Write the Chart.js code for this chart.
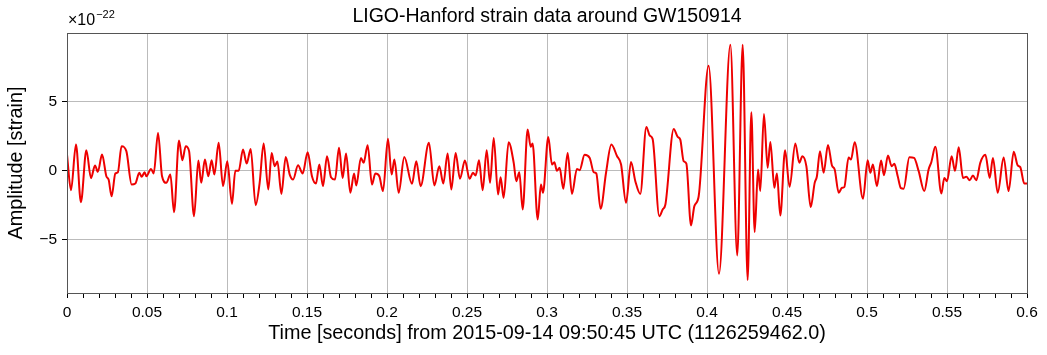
<!DOCTYPE html>
<html>
<head>
<meta charset="utf-8">
<script src="https://cdn.jsdelivr.net/npm/chart.js@4.4.1/dist/chart.umd.min.js"></script>
<style>
html,body{margin:0;padding:0;background:#fff;}
#wrap{width:1047px;height:355px;}
</style>
</head>
<body>
<div id="wrap"><canvas id="c" width="1047" height="355"></canvas></div>
<script>
// Time (s) from 2015-09-14 09:50:45 UTC, read at local extrema of the trace
const times = [
0.0000,0.0025,0.0056,0.0087,0.0121,0.0150,0.0175,0.0193,0.0219,0.0246,0.0260,0.0279,0.0302,0.0318,0.0341,0.0371,0.0404,0.0427,0.0452,0.0467,0.0485,0.0496,
0.0525,0.0542,0.0569,0.0594,0.0621,0.0646,0.0669,0.0700,0.0721,0.0742,0.0763,0.0794,0.0821,0.0839,0.0862,0.0883,0.0904,0.0921,0.0948,0.0975,0.1002,
0.1031,0.1052,0.1073,0.1100,0.1123,0.1148,0.1179,0.1204,0.1229,0.1258,0.1279,0.1298,0.1315,0.1340,0.1367,0.1392,0.1413,0.1444,0.1473,0.1504,
0.1531,0.1556,0.1577,0.1600,0.1625,0.1650,0.1675,0.1700,0.1723,0.1744,0.1771,0.1794,0.1808,0.1837,0.1854,0.1879,0.1906,0.1927,0.1952,0.1975,0.2006,
0.2029,0.2046,0.2073,0.2108,0.2156,0.2183,0.2210,0.2262,0.2296,0.2327,0.2352,0.2379,0.2402,0.2429,0.2456,0.2487,
0.2516,0.2537,0.2554,0.2575,0.2598,0.2623,0.2644,0.2667,0.2694,0.2710,0.2729,0.2760,0.2792,0.2808,0.2827,0.2848,0.2879,0.2898,0.2910,0.2942,0.2962,0.2975,0.3008,
0.3031,0.3046,0.3062,0.3079,0.3102,0.3129,0.3156,0.3187,0.3204,0.3235,0.3267,0.3292,0.3308,0.3335,0.3369,0.3402,0.3438,0.3463,0.3494,
0.3525,0.3552,0.3583,0.3621,0.3642,0.3660,0.3702,0.3723,0.3740,0.3792,0.3817,0.3833,0.3854,0.3871,0.3900,0.3921,0.3948,0.4010,
0.4075,0.4146,0.4189,0.4223,0.4254,0.4277,0.4298,0.4319,0.4333,0.4356,0.4379,0.4396,0.4421,0.4437,0.4458,0.4488,
0.4516,0.4552,0.4577,0.4596,0.4621,0.4648,0.4673,0.4687,0.4706,0.4729,0.4756,0.4781,0.4798,0.4823,0.4844,0.4858,0.4885,0.4900,0.4923,0.4975,0.5004,
0.5021,0.5037,0.5062,0.5088,0.5106,0.5131,0.5154,0.5171,0.5192,0.5212,0.5229,0.5265,0.5294,0.5323,0.5358,0.5385,0.5402,0.5427,0.5465,0.5483,0.5500,
0.5529,0.5550,0.5573,0.5600,0.5621,0.5642,0.5662,0.5683,0.5708,0.5740,0.5767,0.5787,0.5817,0.5854,0.5885,0.5917,0.5942,0.5958,0.5983,0.6000
];
// Strain amplitude in units of 1e-22
const strain = [
1.18,-1.40,1.91,-2.27,1.50,-0.53,0.39,-0.07,1.18,-0.39,-0.63,-1.84,-0.19,-0.10,1.79,1.43,-0.99,-0.92,-0.14,-0.43,-0.10,-0.39,
0.14,-0.19,2.75,-0.39,-0.87,-0.27,-3.00,2.20,0.77,1.79,1.43,-3.29,0.75,-0.87,0.82,-0.39,0.77,-0.27,2.03,-1.11,0.70,
-2.39,0.00,0.00,1.55,0.53,1.59,-2.49,-0.87,1.98,-1.35,1.30,0.34,0.68,-1.67,1.01,-0.27,-0.63,0.41,-0.19,1.35,
-0.39,-0.92,0.46,-1.11,1.06,-0.46,-0.63,1.67,-0.51,1.26,-1.59,-0.19,-1.06,0.94,0.58,1.86,-0.99,-0.19,-0.39,-1.47,2.32,
-0.27,0.82,-1.59,1.01,-0.94,0.70,-1.11,2.03,-1.06,0.34,-0.92,1.26,-1.35,1.30,-0.58,0.75,
-0.58,-0.14,-0.34,0.77,-1.40,1.50,-0.87,2.39,-1.71,-0.46,-1.96,2.08,0.58,-0.75,-0.10,-2.80,3.00,1.74,1.98,-3.53,-0.99,-1.59,2.46,
0.46,0.63,0.00,0.22,-1.30,1.30,-1.67,0.14,0.05,1.16,0.94,-0.10,-0.19,-2.75,-0.14,1.91,1.06,0.46,-2.32,
0.65,-0.75,-1.67,3.19,2.56,2.32,-3.29,-2.80,-2.44,3.04,2.46,2.27,0.70,0.53,-3.96,-2.56,-1.84,7.63,
-7.46,9.15,-6.14,9.15,-7.92,4.25,-4.44,0.10,-1.47,4.13,0.22,2.10,-1.23,-0.19,-3.24,1.50,
-1.16,1.98,0.58,1.06,0.34,-2.63,-0.87,-0.39,1.43,-0.14,1.88,0.39,0.10,-1.59,-1.23,-1.18,0.97,0.82,2.08,-2.03,0.77,
-0.14,0.46,-1.11,0.75,-0.31,1.11,0.34,0.51,-0.39,-1.26,-1.30,0.99,0.94,-0.02,-1.47,0.10,0.63,1.74,-1.64,-0.51,-0.75,
1.06,0.00,1.71,-0.51,-0.43,-0.68,-0.34,-0.68,0.58,1.16,-0.51,0.94,-1.59,0.97,-1.47,1.38,0.39,0.27,-0.92,-0.92
];
const xMajorTicks = [0,0.05,0.1,0.15,0.2,0.25,0.3,0.35,0.4,0.45,0.5,0.55,0.6];
const yTicks = [-5,0,5];
const titleText = 'LIGO-Hanford strain data around GW150914';
const xLabel = 'Time [seconds] from 2015-09-14 09:50:45 UTC (1126259462.0)';
const yLabel = 'Amplitude [strain]';

const FONT = "'Liberation Sans', Arial, Helvetica, sans-serif";
const points = times.map((t, i) => ({x: t, y: strain[i]}));
const isMajor = v => Math.abs(v / 0.05 - Math.round(v / 0.05)) < 1e-6;

const framePlugin = {
  id: 'frame',
  afterDraw(chart) {
    const {ctx, chartArea: a} = chart;
    ctx.save();
    ctx.strokeStyle = '#555';
    ctx.lineWidth = 1;
    ctx.strokeRect(Math.round(a.left) + 0.5, Math.round(a.top) + 0.5,
      Math.round(a.right - a.left), Math.round(a.bottom - a.top));
    // title centred over the plotting area
    ctx.fillStyle = '#000';
    ctx.textAlign = 'center';
    ctx.textBaseline = 'middle';
    ctx.font = '19.5px ' + FONT;
    ctx.fillText(titleText, (a.left + a.right) / 2, a.top - 16);
    // offset / multiplier label
    ctx.textAlign = 'left';
    ctx.textBaseline = 'alphabetic';
    ctx.font = '16px ' + FONT;
    ctx.fillText('×10', a.left + 1, a.top - 8);
    const w = ctx.measureText('×10').width;
    ctx.font = '11px ' + FONT;
    ctx.fillText('−22', a.left + 1 + w + 1, a.top - 15);
    ctx.restore();
  }
};

new Chart(document.getElementById('c'), {
  type: 'line',
  data: {
    datasets: [{
      data: points,
      borderColor: '#ee0000',
      borderWidth: 2,
      pointRadius: 0,
      cubicInterpolationMode: 'monotone',
      fill: false
    }]
  },
  options: {
    responsive: false,
    animation: false,
    events: [],
    layout: {padding: {left: 0, right: 20, top: 33, bottom: 0}},
    plugins: {
      legend: {display: false},
      tooltip: {enabled: false},
      title: {display: false}
    },
    scales: {
      x: {
        type: 'linear',
        min: 0, max: 0.6,
        afterBuildTicks(scale) {
          const t = [];
          for (let i = 0; i <= 60; i++) t.push({value: i / 100});
          scale.ticks = t;
        },
        afterFit(scale) { scale.height = 62; },
        ticks: {
          autoSkip: false,
          maxRotation: 0,
          color: '#000',
          font: {family: FONT, size: 15.5},
          padding: 5,
          callback: v => isMajor(v) && xMajorTicks.some(m => Math.abs(m - v) < 1e-6) ? String(parseFloat(v.toFixed(2))) : ''
        },
        grid: {
          color: ctx => (ctx.tick && isMajor(ctx.tick.value)) ? '#bbbbbb' : 'rgba(0,0,0,0)',
          tickColor: '#000',
          tickLength: 5,
          lineWidth: 1
        },
        border: {display: false},
        title: {
          display: true,
          text: xLabel,
          color: '#000',
          font: {family: FONT, size: 19.8, lineHeight: 1.2},
          padding: {top: 0, bottom: 10}
        }
      },
      y: {
        type: 'linear',
        min: -8.86, max: 10.0,
        afterBuildTicks(scale) { scale.ticks = yTicks.map(v => ({value: v})); },
        afterFit(scale) { scale.width = 67; },
        ticks: {
          color: '#000',
          font: {family: FONT, size: 15.5},
          padding: 5,
          callback: v => (v < 0 ? '−' + Math.abs(v) : String(v))
        },
        grid: {
          color: '#bbbbbb',
          tickColor: '#000',
          tickLength: 5,
          lineWidth: 1
        },
        border: {display: false},
        title: {
          display: true,
          text: yLabel,
          color: '#000',
          font: {family: FONT, size: 19.8, lineHeight: 1.2},
          padding: {top: 5, bottom: 0}
        }
      }
    }
  },
  plugins: [framePlugin]
});
</script>
</body>
</html>
